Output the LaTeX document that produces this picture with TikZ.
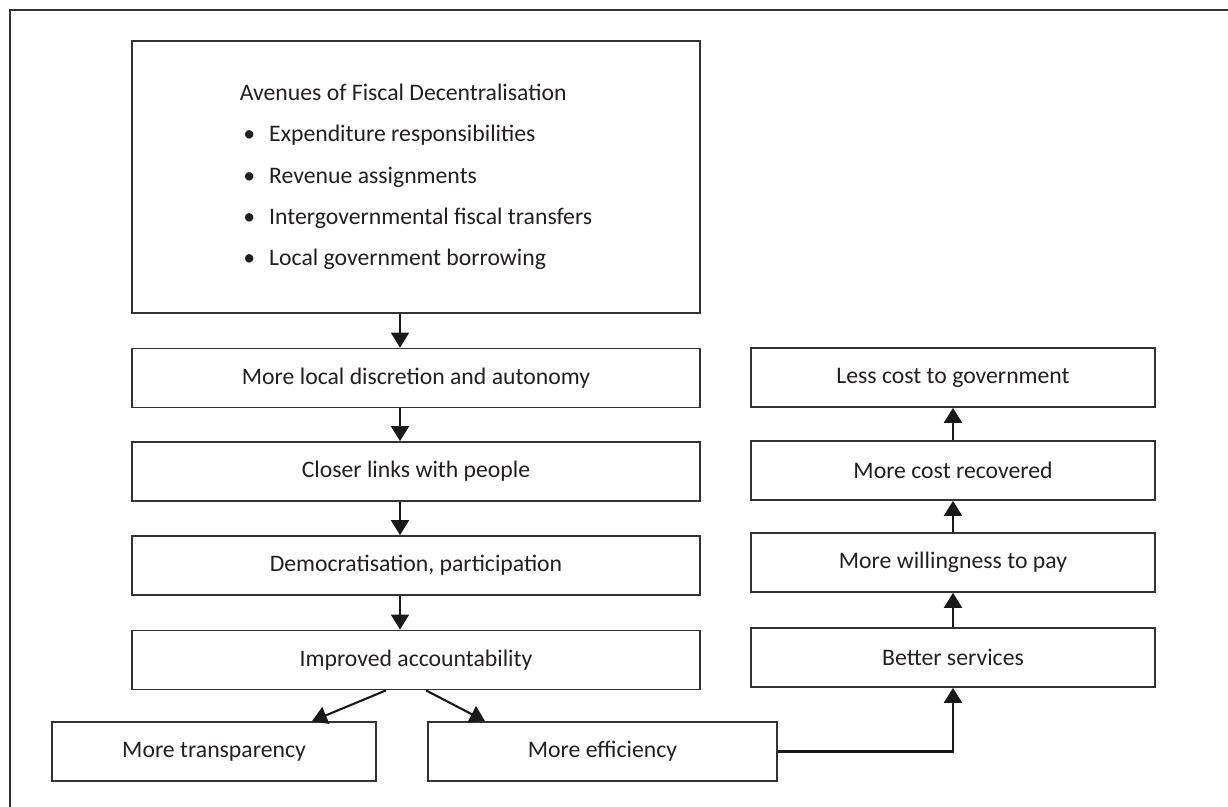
\documentclass[tikz,border=0pt]{standalone}
\usepackage{fontspec}
\setmainfont{Carlito}
\usetikzlibrary{arrows.meta,calc}
\definecolor{linegray}{HTML}{333333}
\definecolor{textgray}{HTML}{231F20}
\tikzset{box/.style={draw=linegray,line width=1pt,align=center,minimum height=1.18cm,inner sep=3pt,
    font=\fontsize{13.5}{16.5}\selectfont,text=textgray},
  leftbox/.style={box,minimum width=11.36cm},
  rightbox/.style={box,minimum width=8.08cm},
  arr/.style={-{Triangle[length=3mm,width=3.6mm]},line width=1.2pt,black!90}}
\begin{document}
\begin{tikzpicture}[x=0.02cm,y=-0.02cm]
\useasboundingbox (0,0) rectangle (1228,807);
% frame
\draw[linegray,line width=0.8pt] (10,807) -- (10,10) -- (1228,10);
% left column
\node[leftbox,minimum height=5.44cm,align=left] (avenues) at (416,177)
  {Avenues of Fiscal Decentralisation\\[7pt]
   \hspace{2pt}\textbullet\hspace{8pt}Expenditure responsibilities\\[7pt]
   \hspace{2pt}\textbullet\hspace{8pt}Revenue assignments\\[7pt]
   \hspace{2pt}\textbullet\hspace{8pt}Intergovernmental fiscal transfers\hspace{0.3cm}\\[7pt]
   \hspace{2pt}\textbullet\hspace{8pt}Local government borrowing};
\node[leftbox] (local) at (416,378) {More local discretion and autonomy};
\node[leftbox] (closer) at (416,471.5) {Closer links with people};
\node[leftbox] (democ) at (416,565.5) {Democratisation, participation};
\node[leftbox] (account) at (416,660) {Improved accountability};
% bottom row
\node[box,minimum width=6.48cm] (transp) at (214,751.5) {More transparency};
\node[box,minimum width=6.98cm] (effic) at (602.5,751.5) {More efficiency};
% right column
\node[rightbox] (services) at (953,657.5) {Better services};
\node[rightbox] (willing) at (953,562.5) {More willingness to pay};
\node[rightbox] (recover) at (953,470.5) {More cost recovered};
\node[rightbox] (lesscost) at (953,377.5) {Less cost to government};
% arrows
\foreach \a/\b in {avenues/local,local/closer,closer/democ,democ/account}
  \draw[arr] ([xshift=-0.32cm]\a.south) -- ([xshift=-0.32cm]\b.north);
\draw[arr] ([xshift=-0.6cm]account.south) -- ([xshift=1.96cm]transp.north);
\draw[arr] ([xshift=0.2cm]account.south) -- ([xshift=-2.35cm]effic.north);
\draw[arr] (effic.east) -| (services.south);
\foreach \a/\b in {services/willing,willing/recover,recover/lesscost}
  \draw[arr] (\a.north) -- (\b.south);
\end{tikzpicture}
\end{document}
